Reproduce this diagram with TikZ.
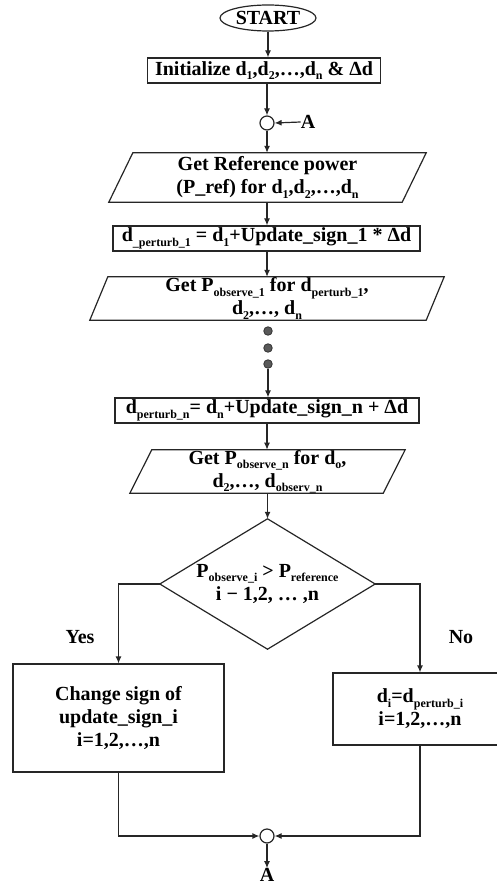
\documentclass[tikz,border=0pt]{standalone}
\usepackage{fontspec}
\setmainfont{Liberation Serif}
\usetikzlibrary{arrows.meta,shapes.geometric}
\newcommand\sbs[1]{\raisebox{-0.22em}{\fontsize{12}{12}\selectfont #1}}
\begin{document}
\begin{tikzpicture}[x=1pt,y=-1pt,
  every node/.style={font=\fontsize{20}{23}\selectfont\bfseries, align=center, inner sep=0pt},
  ln/.style={line width=1.2pt, draw=black!85},
  arr/.style={ln, -{Latex[length=7pt,width=6pt]}},
  box/.style={ln, rectangle},
  plain/.style={rectangle},
  dotnode/.style={circle, fill=black!65, draw=black!80, line width=0.8pt, minimum size=8.5pt},
  joint/.style={circle, ln, fill=white, minimum size=14pt}
  ]
\useasboundingbox (0,0) rectangle (496,885);

\node[ln, ellipse, minimum width=96pt, minimum height=26pt] (start) at (268,18) {START};
\node[box, minimum width=233pt, minimum height=25pt] (init) at (264,70.5) {Initialize d\sbs{1},d\sbs{2},…,d\sbs{n} \& Δd};
\node[joint] (cA) at (267,123) {};
\node (lA) at (308,122) {A};

\node[plain, minimum width=293pt, minimum height=49pt] (p1) at (267.5,177.5) {Get Reference power\\(P\_ref) for d\sbs{1},d\sbs{2},…,d\sbs{n}};
\draw[ln] ([xshift=12pt]p1.north west) -- ([xshift=12pt]p1.north east) -- ([xshift=-12pt]p1.south east) -- ([xshift=-12pt]p1.south west) -- cycle;

\node[box, minimum width=307pt, minimum height=25pt] (b1) at (266.5,238.5) {d\sbs{\_perturb\_1} = d\sbs{1}+Update\_sign\_1 * Δd};

\node[plain, minimum width=336pt, minimum height=43pt] (p2) at (267,298.5) {Get P\sbs{observe\_1} for d\sbs{perturb\_1},\\d\sbs{2},…, d\sbs{n}};
\draw[ln] ([xshift=9pt]p2.north west) -- ([xshift=9pt]p2.north east) -- ([xshift=-9pt]p2.south east) -- ([xshift=-9pt]p2.south west) -- cycle;

\node[dotnode] (dot1) at (268,331) {};
\node[dotnode] (dot2) at (268,348) {};
\node[dotnode] (dot3) at (268,364) {};

\node[box, minimum width=304pt, minimum height=25pt] (bn) at (267,410.5) {d\sbs{perturb\_n}= d\sbs{n}+Update\_sign\_n + Δd};

\node[plain, minimum width=253pt, minimum height=43pt] (p3) at (267.5,471.5) {Get P\sbs{observe\_n} for d\sbs{o},\\d\sbs{2},…, d\sbs{observ\_n}};
\draw[ln] ([xshift=11pt]p3.north west) -- ([xshift=11pt]p3.north east) -- ([xshift=-11pt]p3.south east) -- ([xshift=-11pt]p3.south west) -- cycle;

\node[plain, minimum width=215pt, minimum height=130pt] (dia) at (267.5,584) {P\sbs{observe\_i} > P\sbs{reference}\\i − 1,2, … ,n};
\draw[ln] (dia.north) -- (dia.east) -- (dia.south) -- (dia.west) -- cycle;

\node (yes) at (80,637) {Yes};
\node (no) at (461,637) {No};

\node[box, minimum width=211pt, minimum height=108pt] (lb) at (118.5,718) {Change sign of\\update\_sign\_i\\i=1,2,…,n};
\node[box, minimum width=174pt, minimum height=72pt] (rb) at (420,709) {d\sbs{i}=d\sbs{perturb\_i}\\i=1,2,…,n};

\node[joint] (cB) at (267,836) {};
\node (lA2) at (267,875) {A};

\draw[arr] (start.south) -- (start.south |- init.north);
\draw[arr] (init.south -| cA) -- (cA.north);
\draw[arr] (lA.west) -- (cA.east);
\draw[arr] (cA.south) -- (cA.south |- p1.north);
\draw[arr] (p1.south -| cA) -- (cA |- b1.north);
\draw[arr] (b1.south -| cA) -- (cA |- p2.north);
\draw[arr] (dot3.south) -- (dot3.south |- bn.north);
\draw[arr] (bn.south -| cA) -- (cA |- p3.north);
\draw[arr] (p3.south -| dia.north) -- (dia.north);
\draw[arr] (dia.west) -| (lb.north);
\draw[arr] (dia.east) -| (rb.north);
\draw[arr] (lb.south) |- (cB.west);
\draw[arr] (rb.south) |- (cB.east);
\draw[arr] (cB.south) -- (lA2.north);
\end{tikzpicture}
\end{document}
